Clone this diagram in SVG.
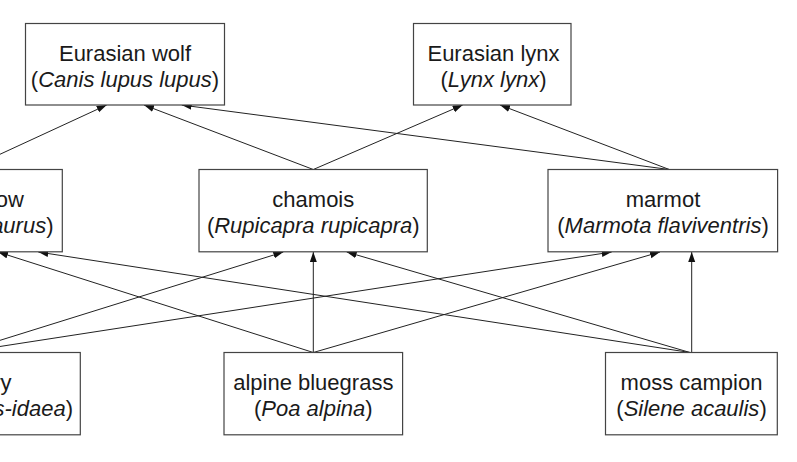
<svg xmlns="http://www.w3.org/2000/svg" width="797" height="462" viewBox="0 0 797 462">
<style>
.box{fill:#fff;stroke:#444;stroke-width:1.2}
.t{font-family:"Liberation Sans",Arial,sans-serif;font-size:22px;fill:#1a1a1a;text-anchor:middle}
.te{font-family:"Liberation Sans",Arial,sans-serif;font-size:22px;fill:#1a1a1a;text-anchor:end}
.i{font-style:italic}
.e{fill:none;stroke:#222;stroke-width:1}
</style>
<defs>
<marker id="ah" markerUnits="userSpaceOnUse" markerWidth="11" markerHeight="8" refX="10" refY="3.5" orient="auto">
<path d="M0,0 L10,3.5 L0,7 z" fill="#111"/>
</marker>
</defs>
<rect width="797" height="462" fill="#fff"/>
<g id="connectors">
<line class="e" x1="-33" y1="169.5" x2="106.7" y2="105" marker-end="url(#ah)"/>
<line class="e" x1="313.3" y1="169.5" x2="144" y2="105" marker-end="url(#ah)"/>
<line class="e" x1="313.3" y1="169.5" x2="462.7" y2="105" marker-end="url(#ah)"/>
<line class="e" x1="669.3" y1="169.5" x2="181.7" y2="105" marker-end="url(#ah)"/>
<line class="e" x1="669.3" y1="169.5" x2="500" y2="105" marker-end="url(#ah)"/>
<line class="e" x1="-39" y1="352.5" x2="283.3" y2="252" marker-end="url(#ah)"/>
<line class="e" x1="-39" y1="352.5" x2="611.7" y2="252" marker-end="url(#ah)"/>
<line class="e" x1="313.3" y1="352.5" x2="-2" y2="252" marker-end="url(#ah)"/>
<line class="e" x1="313.3" y1="352.5" x2="313.3" y2="252" marker-end="url(#ah)"/>
<line class="e" x1="313.3" y1="352.5" x2="660" y2="252" marker-end="url(#ah)"/>
<line class="e" x1="690" y1="352.5" x2="38.3" y2="252" marker-end="url(#ah)"/>
<line class="e" x1="690" y1="352.5" x2="346.7" y2="252" marker-end="url(#ah)"/>
<line class="e" x1="691.7" y1="352.5" x2="691.7" y2="252" marker-end="url(#ah)"/>
</g>
<g id="wolf">
<rect class="box" x="25.5" y="23.5" width="199" height="81.5"/>
<text class="t" x="125" y="61">Eurasian wolf</text>
<text class="t" x="125" y="87">(<tspan class="i">Canis lupus lupus</tspan>)</text>
</g>
<g id="lynx">
<rect class="box" x="413.5" y="23.5" width="157.5" height="81.5"/>
<text class="t" x="493.5" y="61">Eurasian lynx</text>
<text class="t" x="493.5" y="87">(<tspan class="i">Lynx lynx</tspan>)</text>
</g>
<g id="cow">
<rect class="box" x="-130" y="169.5" width="192.3" height="82.3"/>
<text class="te" x="23.8" y="207">cow</text>
<text class="te" x="53.5" y="233">(<tspan class="i">Bos taurus</tspan>)</text>
</g>
<g id="chamois">
<rect class="box" x="199" y="169.5" width="228.3" height="82.3"/>
<text class="t" x="313.3" y="207">chamois</text>
<text class="t" x="313.3" y="233">(<tspan class="i">Rupicapra rupicapra</tspan>)</text>
</g>
<g id="marmot">
<rect class="box" x="548" y="169.5" width="229.6" height="82.3"/>
<text class="t" x="663" y="207">marmot</text>
<text class="t" x="663" y="233">(<tspan class="i">Marmota flaviventris</tspan>)</text>
</g>
<g id="lingonberry">
<rect class="box" x="-158" y="352.5" width="238.3" height="82.3"/>
<text class="te" x="11.5" y="390">lingonberry</text>
<text class="te" x="73" y="416">(<tspan class="i">Vaccinium vitis-idaea</tspan>)</text>
</g>
<g id="bluegrass">
<rect class="box" x="224" y="352.5" width="178.6" height="82.3"/>
<text class="t" x="313.3" y="390">alpine bluegrass</text>
<text class="t" x="313.3" y="416">(<tspan class="i">Poa alpina</tspan>)</text>
</g>
<g id="mosscampion">
<rect class="box" x="605.5" y="352.5" width="171.8" height="82.3"/>
<text class="t" x="691.5" y="390">moss campion</text>
<text class="t" x="691.5" y="416">(<tspan class="i">Silene acaulis</tspan>)</text>
</g>
</svg>
